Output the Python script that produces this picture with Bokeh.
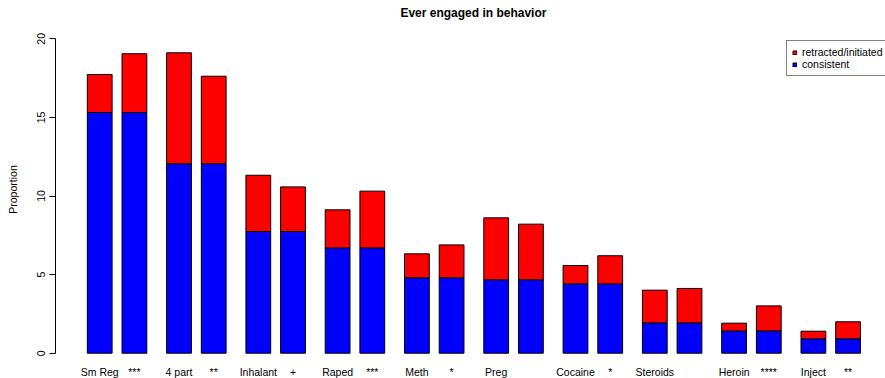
from bokeh.plotting import figure
from bokeh.models import Range1d, FixedTicker, Legend, LegendItem, ColumnDataSource
from bokeh.core.properties import value
from bokeh.embed import file_html
from bokeh.resources import INLINE

# Bar labels (one per bar, pairs of behaviour + significance marker)
bar_labels = ["Sm Reg", "***", "4 part", "**", "Inhalant", "+", "Raped", "***",
              "Meth", "*", "Preg", "", "Cocaine", "*", "Steroids", "",
              "Heroin", "****", "Inject", "**"]

# Consistent reports (blue segment)
consistent = [15.31, 15.31, 12.05, 12.05, 7.74, 7.74, 6.70, 6.70, 4.80, 4.80,
              4.67, 4.67, 4.41, 4.41, 1.93, 1.93, 1.42, 1.42, 0.92, 0.92]

# Total proportion incl. retracted/initiated (top of red segment)
total = [17.73, 19.05, 19.11, 17.62, 11.32, 10.58, 9.12, 10.31, 6.32, 6.89,
         8.61, 8.21, 5.58, 6.20, 4.01, 4.12, 1.91, 3.01, 1.40, 2.00]

y_ticks = [0, 5, 10, 15, 20]

# barplot-style positions: width 1, space 0.8 before each pair, 0.4 inside
xs = []
pos = 0.0
for i in range(len(total)):
    pos += 0.8 if i % 2 == 0 else 0.4
    xs.append(pos + 0.5)
    pos += 1.0

src = ColumnDataSource(dict(x=xs, cons=consistent, tot=total, lab=bar_labels,
                            zero=[0] * len(xs)))

FONT = "Liberation Sans"

p = figure(width=885, height=378, output_backend="svg", toolbar_location=None,
           x_range=Range1d(-0.4843, 33.01), y_range=Range1d(-1.609, 22.437),
           min_border_left=55, min_border_right=0, min_border_top=0,
           min_border_bottom=0, x_axis_location=None)
p.outline_line_color = None
p.xgrid.visible = False
p.ygrid.visible = False
p.background_fill_color = "white"
p.border_fill_color = "white"

yax = p.yaxis[0]
yax.ticker = FixedTicker(ticks=y_ticks)
yax.bounds = (0, 20)
yax.minor_tick_line_color = None
yax.major_tick_in = 0
yax.major_tick_out = 6
yax.axis_line_color = "black"
yax.major_tick_line_color = "black"
yax.major_label_orientation = "vertical"
yax.major_label_text_font = FONT
yax.major_label_text_font_size = "10.5px"
yax.major_label_text_color = "black"
yax.major_label_standoff = 4
yax.axis_label = "Proportion"
yax.axis_label_text_font = FONT
yax.axis_label_text_font_size = "10.5px"
yax.axis_label_text_font_style = "normal"
yax.axis_label_text_color = "black"
yax.axis_label_standoff = 16

blue = p.vbar(x="x", width=1.0, bottom="zero", top="cons", source=src,
              fill_color="#0000FF", line_color="black", line_width=1)
red = p.vbar(x="x", width=1.0, bottom="cons", top="tot", source=src,
             fill_color="#FF0000", line_color="black", line_width=1)

p.text(x="x", y=-1.21, text="lab", source=src, text_align="center",
       text_baseline="middle", text_font=value(FONT), text_font_size="10.5px",
       text_color="black")

p.text(x=[16.38], y=[21.63], text=["Ever engaged in behavior"], text_align="center",
       text_baseline="middle", text_font=value(FONT), text_font_size="12px",
       text_font_style="bold", text_color="black")

legend = Legend(items=[LegendItem(label="retracted/initiated", renderers=[red]),
                       LegendItem(label="consistent", renderers=[blue])],
                location=(731, 302), orientation="vertical")
legend.glyph_width = 5
legend.glyph_height = 5
legend.label_height = 10
legend.label_standoff = 5
legend.spacing = 0
legend.padding = 5
legend.margin = 0
legend.label_text_font = FONT
legend.label_text_font_size = "10.5px"
legend.label_text_color = "black"
legend.label_text_line_height = 0.95
legend.border_line_color = "black"
legend.border_line_width = 1
legend.background_fill_alpha = 1
p.add_layout(legend)

open("out.html", "w").write(file_html(p, INLINE))
